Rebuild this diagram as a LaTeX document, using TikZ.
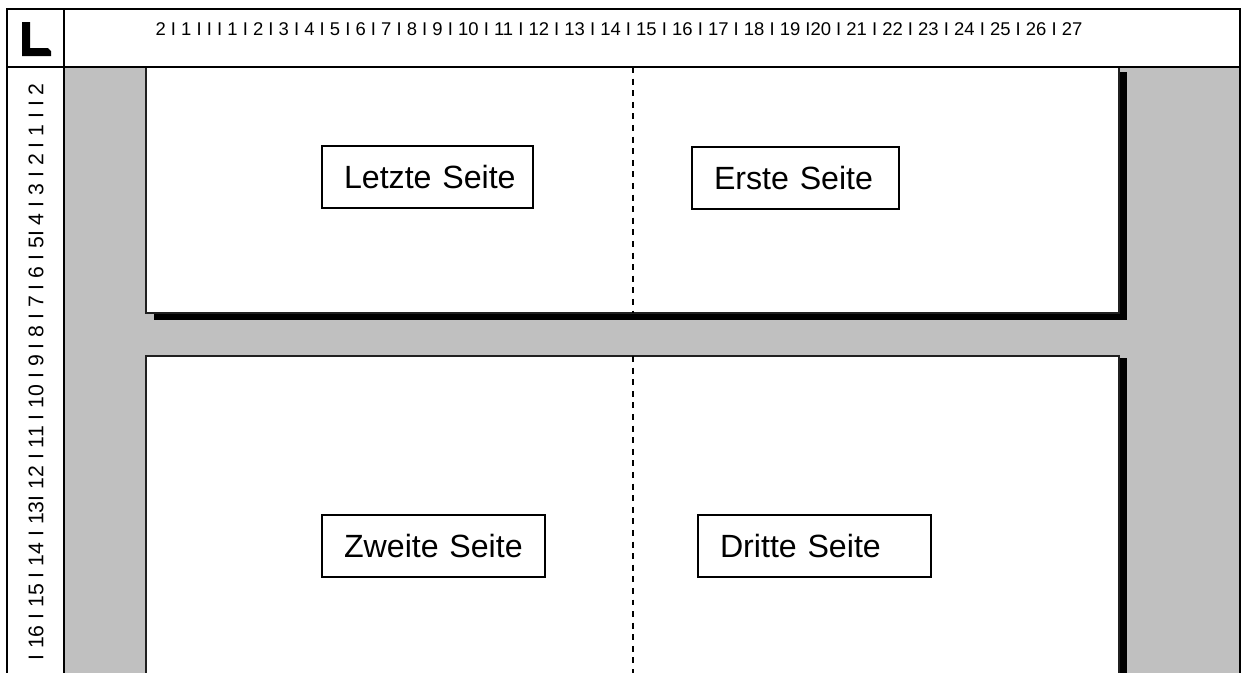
\documentclass[tikz,border=0pt]{standalone}
\usepackage{fontspec}
\setmainfont{Liberation Sans}
\usetikzlibrary{positioning}
\definecolor{trackgray}{HTML}{C0C0C0}
\definecolor{sheetline}{HTML}{202020}

\tikzset{
  pagebox/.style={draw, line width=0.8pt, fill=white, inner ysep=0pt, inner xsep=0.44cm, align=left, minimum height=1.24cm, font=\fontsize{18.3}{18.3}\selectfont},
  rulertext/.style={inner sep=0pt, font=\fontsize{10.5}{10.5}\selectfont},
  foldline/.style={line width=1pt, dash pattern=on 3.4pt off 3.2pt},
  frameline/.style={line width=1.1pt}
}

\begin{document}
\begin{tikzpicture}[x=0.02cm, y=-0.02cm]
  \clip (0,0) rectangle (1242,673);
  \fill[white] (0,0) rectangle (1242,673);

  % grey track behind the sheets
  \fill[trackgray] (64,67) rectangle (1240,680);

  % upper sheet with its drop shadow
  \fill[black] (1119,72) rectangle (1127,320);
  \fill[black] (154,313) rectangle (1127,320);
  \filldraw[fill=white, draw=sheetline, line width=0.7pt] (146,67) rectangle (1119,313);
  \draw[foldline] (633,67) -- (633,313);

  % lower sheet, running off the bottom
  \fill[black] (1119,358) rectangle (1127,690);
  \filldraw[fill=white, draw=sheetline, line width=0.7pt] (146,356) rectangle (1119,690);
  \draw[foldline] (633,356) -- (633,680);

  % page labels
  \node[pagebox, text width=3.34cm] (last) at (427.5,177) {\mbox{Letzte Seite}};
  \node[pagebox, text width=3.26cm] (first) at (795.5,178) {\mbox{Erste Seite}};
  \node[pagebox, text width=3.58cm] (second) at (433.5,546) {\mbox{Zweite Seite}};
  \node[pagebox, text width=3.78cm] (third) at (814.5,546) {\mbox{Dritte Seite}};

  % rulers and frame
  \draw[frameline] (7,690) -- (7,9) -- (1240,9) -- (1240,690);
  \draw[frameline] (7,67) -- (1240,67);
  \draw[frameline] (64,9) -- (64,690);
  \fill[black] (22,22) -- (30,22) -- (30,48) -- (48,48) -- (51,51) -- (51,56) -- (22,56) -- cycle;

  \node[rulertext] (toprule) at (619,29)
    {2 I 1 I I I 1 I 2 I 3 I 4 I 5 I 6 I 7 I 8 I 9 I 10 I 11 I 12 I 13 I 14 I 15 I 16 I 17 I 18 I 19 I20 I 21 I 22 I 23 I 24 I 25 I 26 I 27};
  \node[rulertext, rotate=90, font=\fontsize{12.1}{12.1}\selectfont] (siderule) at (36,372)
    {I 16 I 15 I 14 I 13I 12 I 11 I 10 I 9 I 8 I 7 I 6 I 5I 4 I 3 I 2 I 1 I I 2};
\end{tikzpicture}
\end{document}
